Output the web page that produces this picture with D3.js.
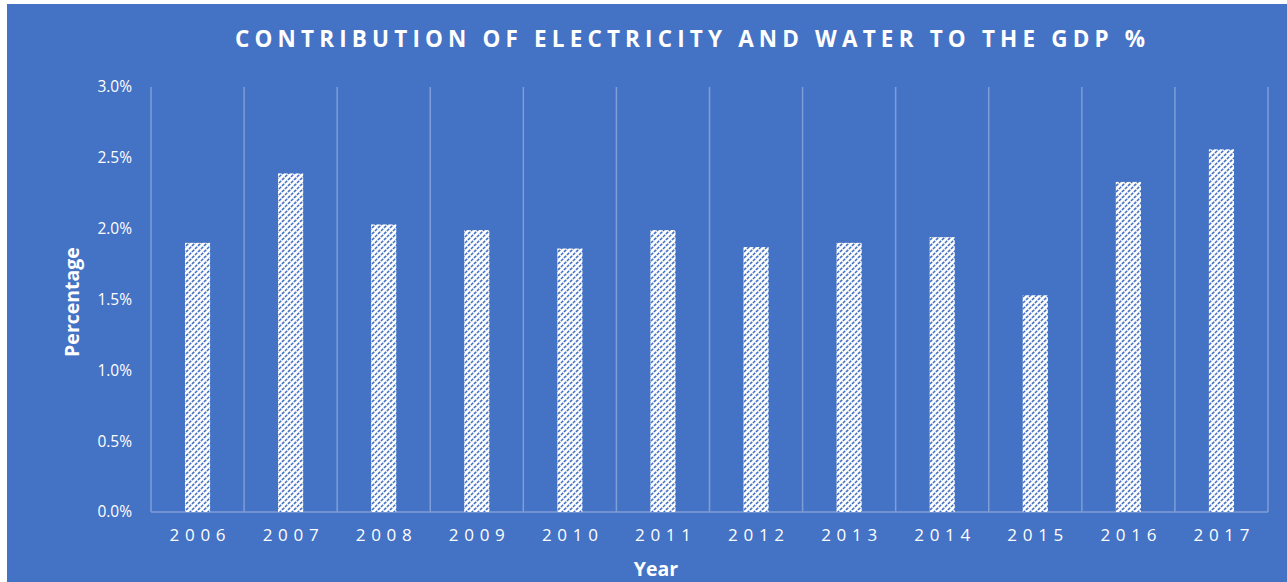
<!DOCTYPE html>
<html>
<head>
<meta charset="utf-8">
<script src="https://cdn.jsdelivr.net/npm/d3@7"></script>
<style>
  html, body { margin: 0; padding: 0; background: #ffffff; }
  svg { display: block; }
  text { font-family: "Open Sans", "Noto Sans", sans-serif; fill: #ffffff; }
</style>
</head>
<body>
<svg id="chart" width="1287" height="582"></svg>
<script>
// Chart data
const years = ["2006", "2007", "2008", "2009", "2010", "2011", "2012", "2013", "2014", "2015", "2016", "2017"];
const shares = [0.0190, 0.0239, 0.0203, 0.0199, 0.0186, 0.0199, 0.0187, 0.0190, 0.0194, 0.0153, 0.0233, 0.0256];
const yTicks = [0, 0.005, 0.010, 0.015, 0.020, 0.025, 0.030];

const titleText = "CONTRIBUTION OF ELECTRICITY AND WATER TO THE GDP %";
const xTitle = "Year";
const yTitle = "Percentage";

const W = 1287, H = 582;
const bg = "#4472C4";
const gridColor = "#7f9dd7";
const plot = { left: 151, right: 1268, top: 87, bottom: 512 };

const svg = d3.select("#chart");

// Panel background
svg.append("rect")
  .attr("x", 7).attr("y", 4)
  .attr("width", W - 7).attr("height", H - 4)
  .attr("fill", bg);

// Hatch fill for the bars: white with dashed upward diagonals
const defs = svg.append("defs");
const P = 6;
const pat = defs.append("pattern")
  .attr("id", "hatch")
  .attr("patternUnits", "userSpaceOnUse")
  .attr("width", P).attr("height", P);
pat.append("rect").attr("width", P).attr("height", P).attr("fill", "#ffffff");
pat.append("path")
  .attr("d", `M0,${P} L${P},0 M${-P / 2},${P / 2} L${P / 2},${-P / 2} M${P / 2},${P * 1.5} L${P * 1.5},${P / 2}`)
  .attr("stroke", bg)
  .attr("stroke-width", 1.6)
  .attr("stroke-dasharray", "3.2,1");

const x = d3.scaleBand()
  .domain(years)
  .range([plot.left, plot.right])
  .paddingInner(0).paddingOuter(0);

const y = d3.scaleLinear()
  .domain([0, 0.03])
  .range([plot.bottom, plot.top]);

// Vertical gridlines at category boundaries
const bounds = years.map(d => x(d)).concat([x.range()[1]]);
svg.append("g").selectAll("line")
  .data(bounds)
  .join("line")
  .attr("x1", d => d).attr("x2", d => d)
  .attr("y1", plot.top).attr("y2", plot.bottom)
  .attr("stroke", gridColor)
  .attr("stroke-width", 1.5);

// Baseline
svg.append("line")
  .attr("x1", plot.left).attr("x2", plot.right)
  .attr("y1", y(0)).attr("y2", y(0))
  .attr("stroke", gridColor)
  .attr("stroke-width", 1.5);

// Bars
const barW = x.bandwidth() * 0.27;
svg.append("g").selectAll("rect")
  .data(years.map((d, i) => ({ year: d, v: shares[i] })))
  .join("rect")
  .attr("x", d => x(d.year) + (x.bandwidth() - barW) / 2)
  .attr("y", d => y(d.v))
  .attr("width", barW)
  .attr("height", d => y(0) - y(d.v))
  .attr("fill", "url(#hatch)");

// Y axis labels
const yAxis = d3.axisLeft(y)
  .tickValues(yTicks)
  .tickFormat(d3.format(".1%"))
  .tickSize(0)
  .tickPadding(0);
const gy = svg.append("g")
  .attr("transform", `translate(${plot.left - 19},0)`)
  .call(yAxis);
gy.select(".domain").remove();
gy.selectAll("text")
  .attr("fill", "#ffffff")
  .style("font-size", "15.5px")
  .style("font-family", "'Open Sans', 'Noto Sans', sans-serif");

// X axis labels
const xAxis = d3.axisBottom(x).tickSize(0).tickPadding(0);
const gx = svg.append("g")
  .attr("transform", `translate(0,${plot.bottom})`)
  .call(xAxis);
gx.select(".domain").remove();
gx.selectAll("text")
  .attr("fill", "#ffffff")
  .attr("dy", null)
  .attr("y", 29)
  .attr("textLength", 56)
  .attr("lengthAdjust", "spacing")
  .style("font-size", "17px")
  .style("font-family", "'Open Sans', 'Noto Sans', sans-serif");

// Title
svg.append("text")
  .attr("x", 690).attr("y", 47)
  .attr("text-anchor", "middle")
  .attr("textLength", 910)
  .attr("lengthAdjust", "spacing")
  .style("font-size", "22.5px")
  .style("font-weight", "700")
  .text(titleText);

// Axis titles
svg.append("text")
  .attr("x", 656).attr("y", 576)
  .attr("text-anchor", "middle")
  .style("font-size", "19.5px")
  .style("font-weight", "700")
  .text(xTitle);

svg.append("text")
  .attr("transform", "translate(79,302) rotate(-90)")
  .attr("text-anchor", "middle")
  .style("font-size", "19.5px")
  .style("font-weight", "700")
  .text(yTitle);
</script>
</body>
</html>
